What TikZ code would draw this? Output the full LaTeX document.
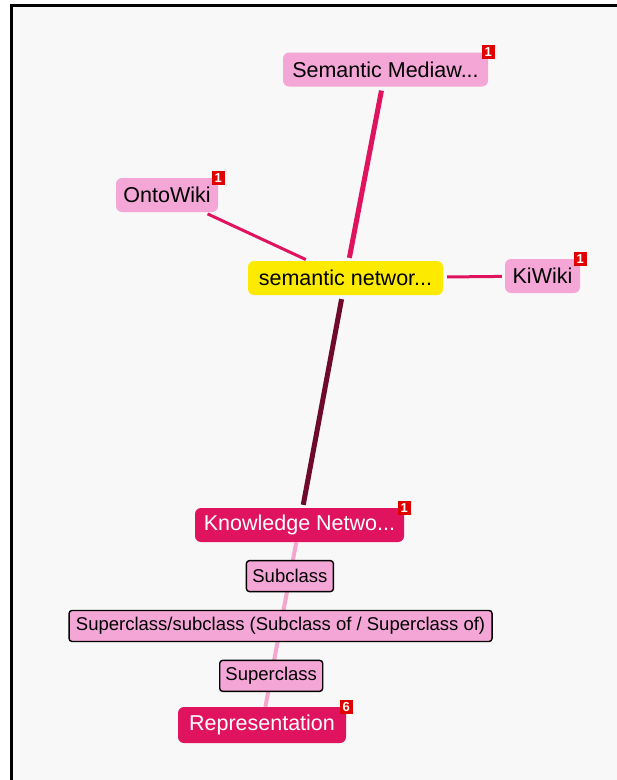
\documentclass[tikz,border=0pt]{standalone}
\usepackage{fontspec}
\setmainfont{Liberation Sans}
\usepackage{tikz}
\definecolor{thoughtpink}{HTML}{F4A6D7}
\definecolor{thoughtred}{HTML}{E0135F}
\definecolor{activeyellow}{HTML}{FCEA00}
\definecolor{parentline}{HTML}{6E0A2E}
\definecolor{childline}{HTML}{F4A6CC}
\definecolor{badgered}{HTML}{E00000}
\definecolor{canvas}{HTML}{F8F8F8}
\newcommand\bigfont{\fontsize{21.5}{24}\selectfont}
\newcommand\smallfont{\fontsize{18.5}{21}\selectfont}

\begin{document}
\begin{tikzpicture}[x=1pt, y=-1pt,
    thought/.style={rounded corners=6pt, inner xsep=4pt, minimum height=34pt, font=\bigfont},
    badge/.style={fill=badgered, text=white, font=\fontsize{13}{13}\selectfont\bfseries, inner sep=0pt, minimum width=13pt, minimum height=14pt, anchor=center},
    linkbox/.style={draw=black, text=black, fill=thoughtpink, line width=1.4pt, rounded corners=3pt, inner xsep=2pt, minimum height=31pt, font=\smallfont},
    edge/.style={shorten <=4pt, shorten >=3pt}]

    \useasboundingbox (0,0) rectangle (617,780);
    \fill[white] (0,0) rectangle (617,780);
    \fill[canvas] (13,7) rectangle (617,780);
    \draw[line width=3pt] (11.5,780) -- (11.5,5.5) -- (617,5.5);

    \node[label={[badge]north east:1}] at (385.5, 69.5) [thought, fill=thoughtpink, minimum width=205pt] (mediawiki) {Semantic Mediaw...};
    \node[label={[badge]north east:1}] at (167, 195) [thought, fill=thoughtpink, minimum width=102pt] (ontowiki) {OntoWiki};
    \node at (345.5, 278) [thought, fill=activeyellow, minimum width=195pt] (semnet) {semantic networ...};
    \node[label={[badge]north east:1}] at (542.5, 276) [thought, fill=thoughtpink, minimum width=75pt] (kiwiki) {KiWiki};

    \node[label={[badge]north east:1}] at (299.5, 525) [thought, fill=thoughtred, text=white, minimum width=209pt] (knowledge) {Knowledge Netwo...};
    \node[label={[badge]north east:6}] at (262, 725) [thought, fill=thoughtred, text=white, minimum width=168pt, minimum height=36pt] (representation) {Representation};

    %jumps
    \draw[edge, thoughtred, line width=5pt] (mediawiki) -- (semnet);
    \draw[edge, thoughtred, line width=3pt] (ontowiki) -- (semnet);
    \draw[edge, thoughtred, line width=3pt] (semnet) -- (kiwiki);

    %parent
    \draw[edge, parentline, line width=5pt] (semnet) -- (knowledge);

    %child with link type
    \draw[childline, line width=4pt] (knowledge)
        -- node[pos=0.206, linkbox, minimum width=87pt] (subcl) {Subclass}
           node[pos=0.509, linkbox, minimum width=423pt] (supsub) {Superclass/subclass (Subclass of / Superclass of)}
           node[pos=0.812, linkbox, minimum width=103pt] (supcl) {Superclass}
        (representation);
\end{tikzpicture}
\end{document}
